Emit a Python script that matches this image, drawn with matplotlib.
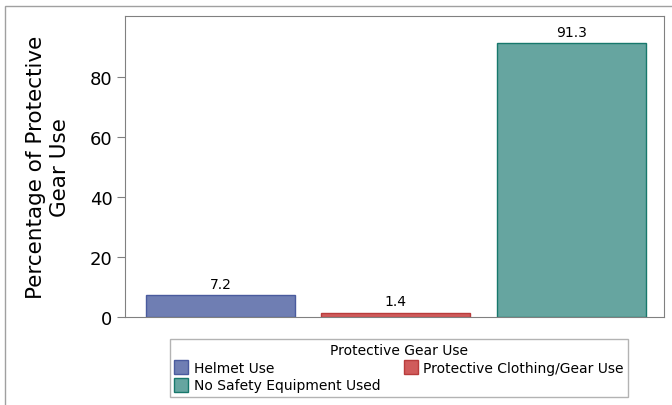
import matplotlib
matplotlib.use("Agg")
import matplotlib.pyplot as plt
from matplotlib.patches import Rectangle

categories = ["Helmet Use", "Protective Clothing/Gear Use", "No Safety Equipment Used"]
values = [7.2, 1.4, 91.3]
fill_colors = ["#6f7eb3", "#d05b5b", "#66a5a0"]
edge_colors = ["#4a5b9e", "#b83c3c", "#17786c"]
y_ticks = [0, 20, 40, 60, 80]

plt.rcParams["font.family"] = ["DejaVu Sans"]

fig = plt.figure(figsize=(6.72, 4.06), dpi=100)
ax = fig.add_axes([125 / 672, 1 - 318 / 406, (664 - 125) / 672, (318 - 17) / 406])

# outer frame of the graph
fig.patches.append(Rectangle((5 / 672, -0.01), 1, 1 - 7 / 406 + 0.01, transform=fig.transFigure,
                             fill=False, edgecolor="#a0a0a0", linewidth=1))

x = list(range(len(categories)))
bars = ax.bar(x, values, width=0.85, color=fill_colors, edgecolor=edge_colors,
              linewidth=1, label=categories)
for xi, v in zip(x, values):
    ax.text(xi, v + 1.5, f"{v}", ha="center", va="bottom", fontsize=10)

ax.set_xlim(-0.545, 2.53)
ax.set_ylim(0, 100.3)
ax.set_xticks([])
ax.set_yticks(y_ticks)
ax.tick_params(axis="y", length=6, color="#808080", labelsize=13, pad=3)
for s in ax.spines.values():
    s.set_color("#808080")
ax.set_ylabel("Percentage of Protective\nGear Use", fontsize=15.5, linespacing=1.3, labelpad=14)

# legend filled row by row: reorder for matplotlib's column-major layout
order = [0, 2, 1]
leg = fig.legend(handles=[bars.patches[i] for i in order], labels=[categories[i] for i in order],
                 title="Protective Gear Use", ncol=2, mode="expand",
                 loc="upper left", bbox_to_anchor=(170 / 672, 1 - 340 / 406, (628 - 170) / 672, 0.0),
                 fontsize=10, title_fontsize=10, frameon=True, fancybox=False,
                 edgecolor="#a0a0a0", handlelength=1.0, handleheight=1.2,
                 handletextpad=0.4, borderpad=0.3, labelspacing=0.2, borderaxespad=0)
leg.get_frame().set_linewidth(1)

fig.savefig("out.png", dpi=100)
